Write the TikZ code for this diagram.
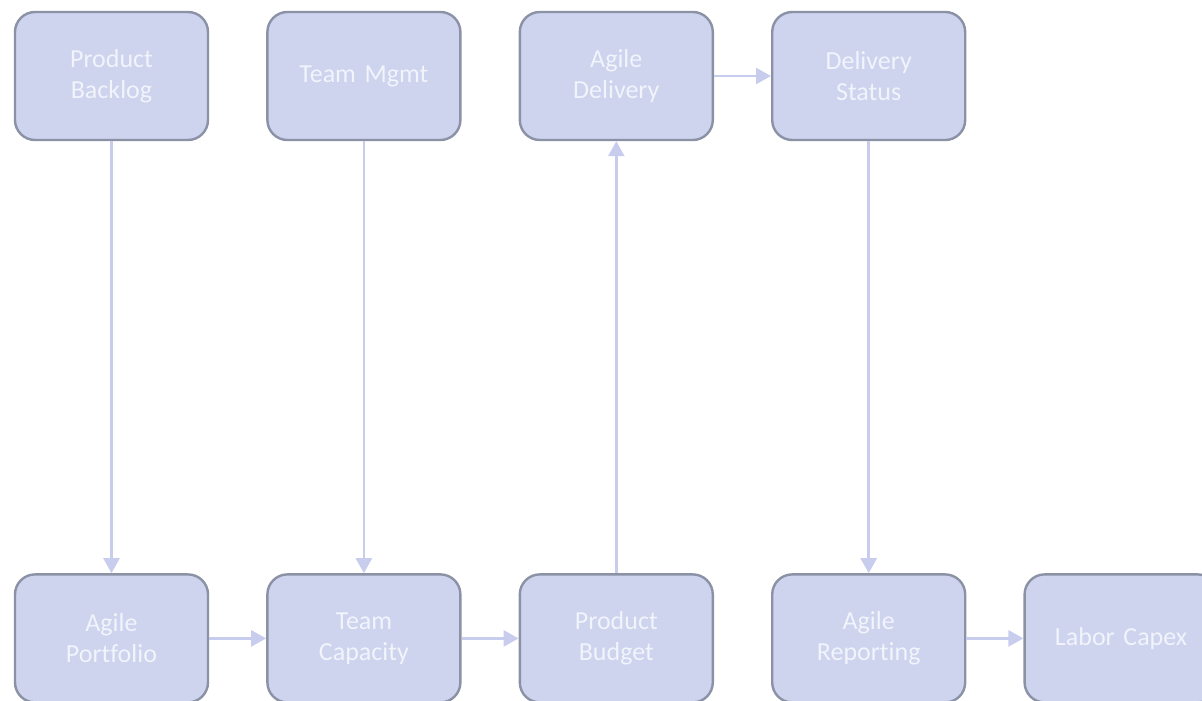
\documentclass[tikz,border=0pt]{standalone}
\usepackage{fontspec}
\setmainfont{Carlito}[Ligatures=NoCommon]
\usepackage{tikz}
\usetikzlibrary{arrows.meta,positioning}
\definecolor{boxfill}{RGB}{206,211,238}
\definecolor{boxline}{RGB}{140,146,166}
\definecolor{flowline}{RGB}{200,205,238}
\definecolor{boxtext}{RGB}{242,244,252}

\begin{document}
\begin{tikzpicture}[x=1pt, y=1pt]
% STYLES
\tikzset{%
    module/.style={%
rectangle,
rounded corners=20pt,
draw=boxline,
line width=2.4pt,
fill=boxfill,
text=boxtext,
inner sep=4pt,
text width=170pt,
align=center,
minimum width=193pt,
minimum height=128pt,
font=\fontsize{26}{31}\selectfont
                          },
    flow/.style={%
color=flowline,
line width=2.6pt,
-{Triangle[width=16pt,length=15pt]}
                          }
             }
\useasboundingbox (0,0) rectangle (1202,-701);
\clip (0,0) rectangle (1202,-701);

% Draw modules
\node [module] (backlog) at (111.5,-76) {Product\\Backlog};
\node [module, right=57pt of backlog] (mgmt) {Team Mgmt};
\node [module, right=57pt of mgmt] (delivery) {Agile\\Delivery};
\node [module, right=57pt of delivery] (status) {Delivery\\Status};
\node [module, below=432pt of backlog] (portfolio) {Agile\\Portfolio};
\node [module, right=57pt of portfolio] (capacity) {Team\\Capacity};
\node [module, right=57pt of capacity] (budget) {Product\\Budget};
\node [module, right=57pt of budget] (reporting) {Agile\\Reporting};
\node [module, right=57pt of reporting] (capex) {Labor Capex};

% Draw the links between modules
\path[flow]
(backlog) edge (portfolio)
(mgmt) edge (capacity)
(budget) edge (delivery)
(status) edge (reporting)
(delivery) edge (status)
(portfolio) edge (capacity)
(capacity) edge (budget)
(reporting) edge (capex);
\end{tikzpicture}
\end{document}
